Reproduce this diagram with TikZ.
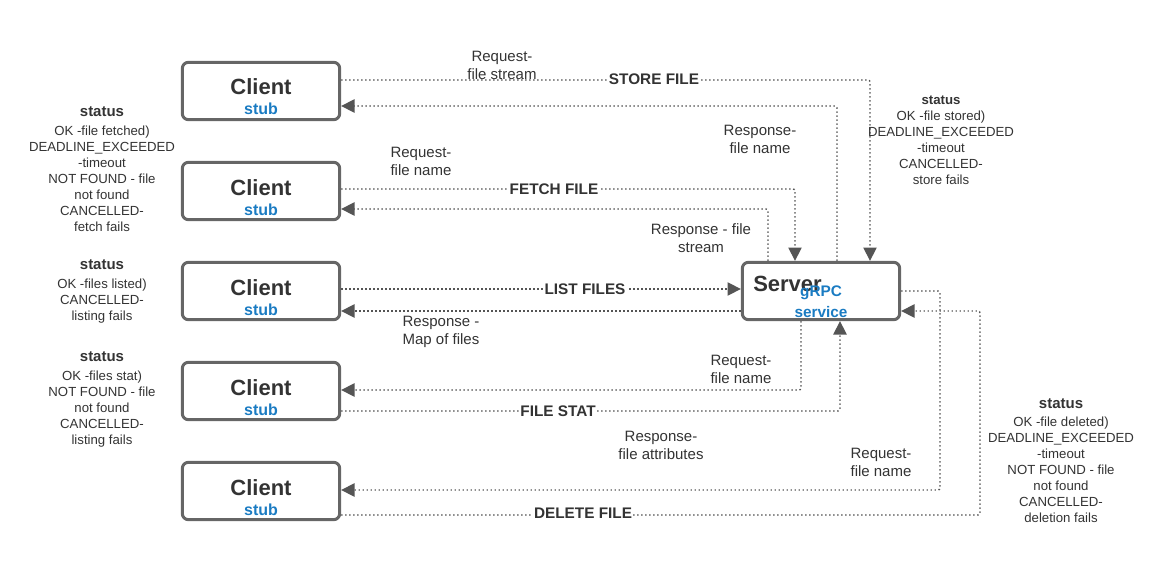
\documentclass[tikz,border=0pt]{standalone}
\usepackage{fontspec}
\setmainfont{Liberation Sans}
\usetikzlibrary{arrows.meta}
\definecolor{boxgray}{HTML}{666666}
\definecolor{linegray}{HTML}{555555}
\definecolor{txtgray}{HTML}{333333}
\definecolor{stubblue}{HTML}{1A7BC2}

\begin{document}
\begin{tikzpicture}[x=0.75pt, y=-0.75pt,
    client/.style={draw=boxgray, line width=2.25pt, rounded corners=4.5pt,
        minimum width=118pt, minimum height=43pt, inner sep=0pt, align=center,
        text=txtgray, font=\bfseries\fontsize{16.5}{15}\selectfont, text height=36pt, text depth=0pt},
    server/.style={draw=boxgray, line width=2.25pt, rounded corners=4.5pt,
        minimum width=118pt, minimum height=43pt, inner sep=0pt},
    flow/.style={draw=linegray, line width=1.1pt, dash pattern=on 1.1pt off 1.9pt,
        rounded corners=1.5pt, -{Triangle[length=10pt, width=10pt]}},
    lbl/.style={text=txtgray, font=\fontsize{11.25}{13.5}\selectfont, align=center, inner sep=0pt},
    op/.style={text=txtgray, font=\bfseries\fontsize{11.5}{13.5}\selectfont, fill=white, inner sep=1pt},
    status/.style={text=txtgray, font=\fontsize{9.9}{12}\selectfont, align=center, inner sep=0pt, anchor=north},
    srvtext/.style={text=txtgray, font=\bfseries\fontsize{16.5}{15}\selectfont, anchor=base, inner sep=0pt},
    rpc/.style={text=stubblue, font=\bfseries\fontsize{11.5}{13.5}\selectfont, anchor=base, inner sep=0pt}]
    \useasboundingbox (0,0) rectangle (1163,581);

    % 客户端
    \node[client] (c1) at (261,91) {Client\\{\color{stubblue}\fontsize{12}{15}\selectfont stub}};
    \node[client] (c2) at (261,191) {Client\\{\color{stubblue}\fontsize{12}{15}\selectfont stub}};
    \node[client] (c3) at (261,291) {Client\\{\color{stubblue}\fontsize{12}{15}\selectfont stub}};
    \node[client] (c4) at (261,391) {Client\\{\color{stubblue}\fontsize{12}{15}\selectfont stub}};
    \node[client] (c5) at (261,491) {Client\\{\color{stubblue}\fontsize{12}{15}\selectfont stub}};

    % 服务器
    \node[server] (srv) at (821,291) {};
    \node[srvtext] (srvname) at (787.5,291) {Server};
    \node[rpc] (grpc) at (821,296) {gRPC};
    \node[rpc] (svc) at (821,317) {service};

    % 连线
    \draw[flow] (c1.east |- 0,80) -| (870,0 |- srv.north);
    \draw[flow] (837,0 |- srv.north) |- (c1.east |- 0,106);
    \draw[flow] (c2.east |- 0,189) -| (795,0 |- srv.north);
    \draw[flow] (768,0 |- srv.north) |- (c2.east |- 0,209);
    \draw[flow] (c3.east |- 0,289) -- (srv.west |- 0,289);
    \draw[flow] (srv.west |- 0,311) -- (c3.east |- 0,311);
    \draw[flow] (c4.east |- 0,411) -| (840,0 |- srv.south);
    \draw[flow] (801,0 |- srv.south) |- (c4.east |- 0,390);
    \draw[flow] (c5.east |- 0,515) -| (980,311) -- (srv.east |- 0,311);
    \draw[flow] (srv.east |- 0,291) -| (940,490) -- (c5.east |- 0,490);

    % 标签
    \node[lbl] (storereq) at (502,65) {Request-\\file stream};
    \node[op] (store) at (654,79) {STORE FILE};
    \node[lbl] (storeres) at (760,139) {Response-\\file name};
    \node[lbl] (fetchreq) at (421,161) {Request-\\file name};
    \node[op] (fetch) at (554,189) {FETCH FILE};
    \node[lbl] (fetchres) at (701,238) {Response - file\\stream};
    \node[op] (list) at (585,289) {LIST FILES};
    \node[lbl, align=left] (listres) at (441,332) {Response -\\Map of files};
    \node[lbl] (statreq) at (741,369) {Request-\\file name};
    \node[op] (stat) at (558,411) {FILE STAT};
    \node[lbl] (statres) at (661,445) {Response-\\file attributes};
    \node[lbl] (delreq) at (881,462) {Request-\\file name};
    \node[op] (del) at (583,513) {DELETE FILE};

    % 状态说明
    \node[status] (stfetch) at (102,106) {{\bfseries\fontsize{11.25}{12}\selectfont status}\\[2.25pt]
        OK -file fetched)\\DEADLINE\_EXCEEDED\\-timeout\\NOT FOUND - file\\not found\\CANCELLED-\\fetch fails};
    \node[status] (stlist) at (102,259) {{\bfseries\fontsize{11.25}{12}\selectfont status}\\[2.25pt]
        OK -files listed)\\CANCELLED-\\listing fails};
    \node[status] (ststat) at (102,351) {{\bfseries\fontsize{11.25}{12}\selectfont status}\\[2.25pt]
        OK -files stat)\\NOT FOUND - file\\not found\\CANCELLED-\\listing fails};
    \node[status] (ststore) at (941,96) {{\bfseries status}\\
        OK -file stored)\\DEADLINE\_EXCEEDED\\-timeout\\CANCELLED-\\store fails};
    \node[status] (stdel) at (1061,398) {{\bfseries\fontsize{11.25}{12}\selectfont status}\\[1.5pt]
        OK -file deleted)\\DEADLINE\_EXCEEDED\\-timeout\\NOT FOUND - file\\not found\\CANCELLED-\\deletion fails};
\end{tikzpicture}
\end{document}
